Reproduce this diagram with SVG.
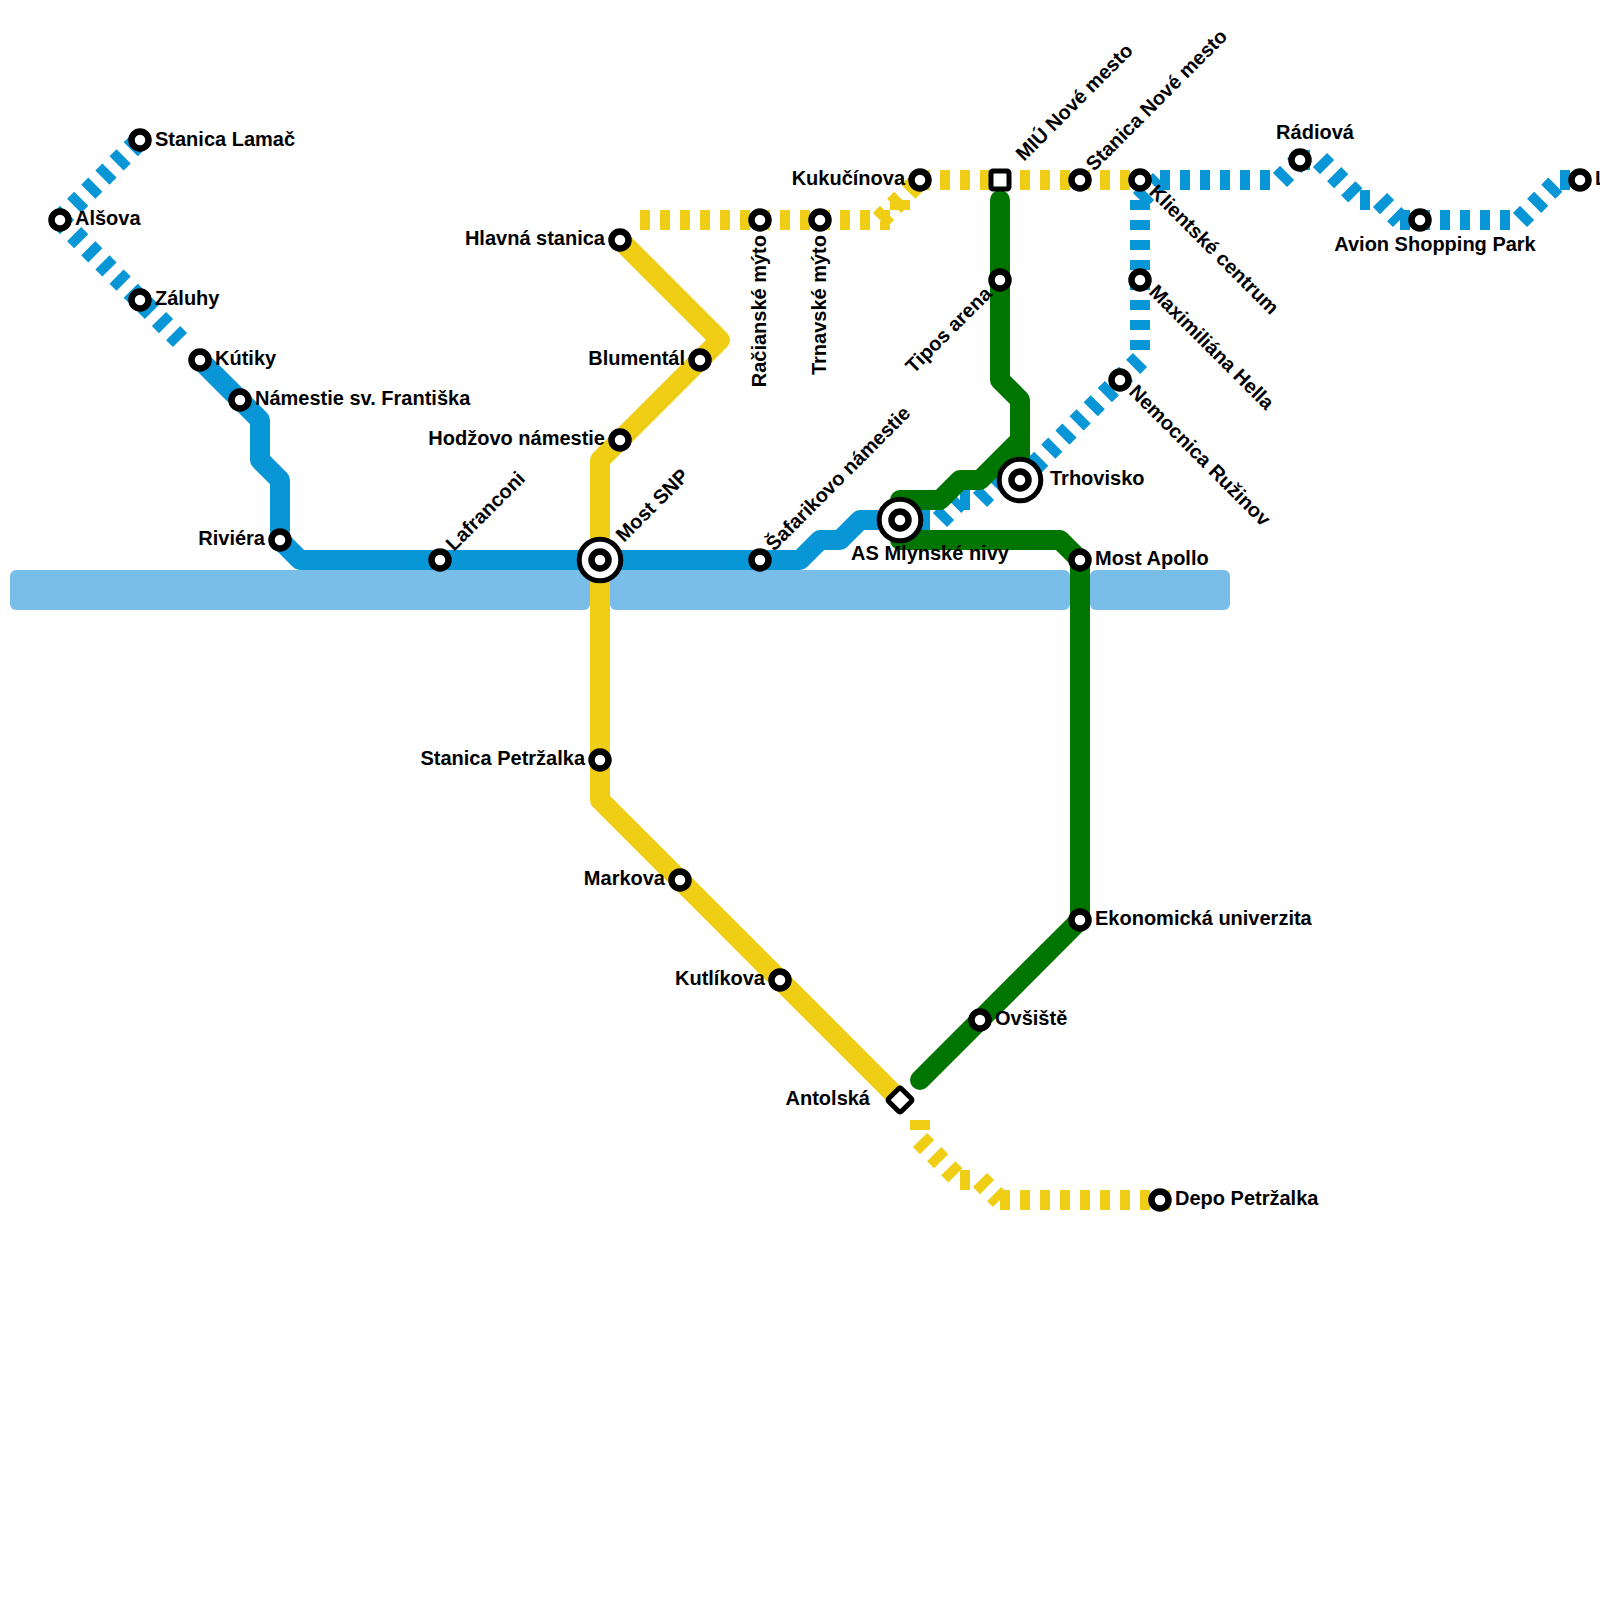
<svg xmlns="http://www.w3.org/2000/svg" width="1600" height="1600" viewBox="0 0 1600 1600">
<style>
.l{fill:none;stroke-width:20;stroke-linejoin:round;stroke-linecap:round}
.d{fill:none;stroke-width:20;stroke-dasharray:10 10;stroke-linecap:butt}
.b{stroke:#0896d7}.y{stroke:#f0ce15}.g{stroke:#007500}
.s{fill:#fff;stroke:#000;stroke-width:6.5}
.o{fill:#fff;stroke:#000;stroke-width:5}
text{font-family:"Liberation Sans",Arial,sans-serif;font-weight:bold;font-size:20px;fill:#000}
.e{text-anchor:end}.m{text-anchor:middle}
</style>
<defs>
<circle id="st" r="8.5" class="s"/>
<g id="ix"><circle r="20.8" class="o"/><circle r="8.5" class="s"/></g>
</defs>
<g id="river" fill="#79bde9">
<rect x="10" y="570" width="580" height="40" rx="6"/>
<rect x="610" y="570" width="460" height="40" rx="6"/>
<rect x="1090" y="570" width="140" height="40" rx="6"/>
</g>
<g id="connectors">
<path class="l b" d="M200 360L260 420V460L280 480V540L300 560H800L820 540H840L860 520H900"/>
<path class="d b" d="M60 220L140 140M60 220L180 340M900 520H940M940 520L960 500M960 500H980M980 500L1000 480M1020 480L1140 360M1140 200V360M1140 200L1160 180M1160 180H1280M1280 180L1300 160M1300 160H1320M1320 160L1360 200M1360 200H1380M1380 200L1400 220M1400 220H1520M1520 220L1560 180M1560 180H1580"/>
<path class="l y" d="M620 240L720 340L620 440L600 460V800L900 1100"/>
<path class="d y" d="M640 220H900M880 220L920 180M900 200V220M920 180H1140M920 1120V1140M920 1140L960 1180M960 1180H980M980 1180L1000 1200M1000 1200H1170"/>
<path class="l g" d="M1000 200V380L1020 400V480M1020 440L980 480H960L940 500H900V540H1060L1080 560V920L920 1080"/>
</g>
<g id="Stanica-Lamac"><use href="#st" x="140" y="140"/><text x="155" y="146">Stanica Lamač</text></g>
<g id="Alsova"><use href="#st" x="60" y="220"/><text x="75" y="225">Alšova</text></g>
<g id="Zaluhy"><use href="#st" x="140" y="300"/><text x="155" y="305">Záluhy</text></g>
<g id="Kutiky"><use href="#st" x="200" y="360"/><text x="215" y="365">Kútiky</text></g>
<g id="Namestie"><use href="#st" x="240" y="400"/><text x="255" y="405">Námestie sv. Františka</text></g>
<g id="Riviera"><use href="#st" x="280" y="540"/><text x="265" y="545" class="e">Riviéra</text></g>
<g id="Lafranconi"><use href="#st" x="440" y="560"/><text transform="translate(454 552) rotate(-45)">Lafranconi</text></g>
<g id="Most-SNP"><use href="#ix" x="600" y="560"/><text transform="translate(624 543) rotate(-45)">Most SNP</text></g>
<g id="Safarikovo"><use href="#st" x="760" y="560"/><text transform="translate(774 552) rotate(-45)">Šafarikovo námestie</text></g>
<g id="AS-Mlynske"><use href="#ix" x="900" y="520"/><text x="930" y="560" class="m">AS Mlynské nivy</text></g>
<g id="Trhovisko"><use href="#ix" x="1020" y="480"/><text x="1050" y="485">Trhovisko</text></g>
<g id="Nemocnica"><use href="#st" x="1120" y="380"/><text transform="translate(1128 393) rotate(45)">Nemocnica Ružinov</text></g>
<g id="Maximiliana"><use href="#st" x="1140" y="280"/><text transform="translate(1148 293) rotate(45)">Maximiliána Hella</text></g>
<g id="Klientske"><use href="#st" x="1140" y="180"/><text transform="translate(1148 193) rotate(45)">Klientské centrum</text></g>
<g id="Stanica-Nove-mesto"><use href="#st" x="1080" y="180"/><text transform="translate(1094 172) rotate(-45)">Stanica Nové mesto</text></g>
<g id="MIU"><rect x="991" y="171" width="18" height="18" rx="2" class="o"/><text transform="translate(1024 162) rotate(-45)">MIÚ Nové mesto</text></g>
<g id="Kukucinova"><use href="#st" x="920" y="180"/><text x="905" y="185" class="e">Kukučínova</text></g>
<g id="Trnavske"><use href="#st" x="820" y="220"/><text transform="translate(826 235) rotate(-90)" class="e">Trnavské mýto</text></g>
<g id="Racianske"><use href="#st" x="760" y="220"/><text transform="translate(766 235) rotate(-90)" class="e">Račianské mýto</text></g>
<g id="Hlavna"><use href="#st" x="620" y="240"/><text x="605" y="245" class="e">Hlavná stanica</text></g>
<g id="Blumental"><use href="#st" x="700" y="360"/><text x="685" y="365" class="e">Blumentál</text></g>
<g id="Hodzovo"><use href="#st" x="620" y="440"/><text x="605" y="445" class="e">Hodžovo námestie</text></g>
<g id="Stanica-Petrzalka"><use href="#st" x="600" y="760"/><text x="585" y="765" class="e">Stanica Petržalka</text></g>
<g id="Markova"><use href="#st" x="680" y="880"/><text x="665" y="885" class="e">Markova</text></g>
<g id="Kutlikova"><use href="#st" x="780" y="980"/><text x="765" y="985" class="e">Kutlíkova</text></g>
<g id="Antolska"><rect x="891" y="1091" width="18" height="18" rx="2" class="o" transform="rotate(45 900 1100)"/><text x="870" y="1105" class="e">Antolská</text></g>
<g id="Depo"><use href="#st" x="1160" y="1200"/><text x="1175" y="1205">Depo Petržalka</text></g>
<g id="Ovsiste"><use href="#st" x="980" y="1020"/><text x="995" y="1025">Ovšiště</text></g>
<g id="Ekonomicka"><use href="#st" x="1080" y="920"/><text x="1095" y="925">Ekonomická univerzita</text></g>
<g id="Most-Apollo"><use href="#st" x="1080" y="560"/><text x="1095" y="565">Most Apollo</text></g>
<g id="Tipos"><use href="#st" x="1000" y="280"/><text transform="translate(993 295) rotate(-45)" class="e">Tipos arena</text></g>
<g id="Radiova"><use href="#st" x="1300" y="160"/><text x="1315" y="139" class="m">Rádiová</text></g>
<g id="Avion"><use href="#st" x="1420" y="220"/><text x="1435" y="251" class="m">Avion Shopping Park</text></g>
<g id="Last"><use href="#st" x="1580" y="180"/><text x="1595" y="185">L</text></g>
</svg>
